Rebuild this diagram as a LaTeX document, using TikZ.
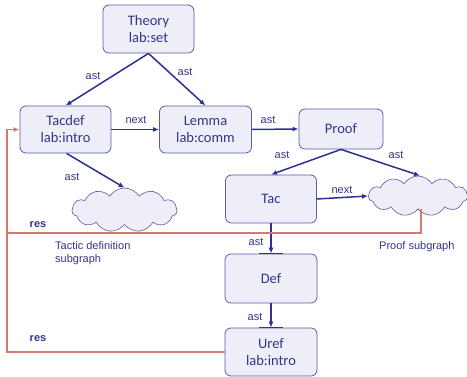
\documentclass[tikz,border=0pt]{standalone}
\usepackage{fontspec}
\setmainfont{Liberation Sans}
\newfontfamily\boxfont{Carlito}
\usetikzlibrary{arrows.meta,shapes.symbols}
\definecolor{nodefill}{HTML}{EEEEF8}
\definecolor{nodeline}{HTML}{5A5AAA}
\definecolor{navy}{HTML}{2E3192}
\definecolor{txt}{HTML}{34348A}
\definecolor{resred}{HTML}{D47A6E}
\tikzset{
  box/.style={draw=nodeline, fill=nodefill, rounded corners=6pt, line width=0.8pt,
    text=txt, font=\boxfont\fontsize{14.5}{17}\selectfont, align=center, inner sep=0pt},
  cloudnode/.style={cloud, cloud puffs=11, cloud puff arc=115, aspect=2.5, draw=nodeline,
    fill=nodefill, line width=0.6pt, inner sep=0pt},
  conn/.style={draw=navy, line width=1.5pt, -{Latex[length=6pt,width=5pt]}},
  resline/.style={draw=resred, line width=1.5pt},
  lbl/.style={text=txt, font=\fontsize{11}{13}\selectfont, inner sep=0pt},
  reslbl/.style={text=txt, font=\bfseries\fontsize{11}{13}\selectfont, inner sep=0pt},
  note/.style={text=txt, font=\fontsize{11}{13.5}\selectfont, inner sep=0pt, align=left}
}
\begin{document}
\begin{tikzpicture}[x=1pt,y=-1pt]
\useasboundingbox (0,0) rectangle (467,377);
% nodes
\node[box, minimum width=91pt, minimum height=48pt] (theory) at (148.5,29) {Theory\\lab:set};
\node[box, minimum width=91pt, minimum height=47pt] (tacdef) at (65.5,129.5) {Tacdef\\lab:intro};
\node[box, minimum width=92pt, minimum height=47pt] (lemma) at (205.5,129.5) {Lemma\\lab:comm};
\node[box, minimum width=84pt, minimum height=40pt] (proof) at (341,129) {Proof};
\node[box, minimum width=91pt, minimum height=48pt] (tac) at (271,199) {Tac};
\node[box, minimum width=92pt, minimum height=49pt] (def) at (271,278.5) {Def};
\node[box, minimum width=92pt, minimum height=48pt] (uref) at (271,352) {Uref\\lab:intro};
\node[cloudnode, minimum width=105pt, minimum height=44pt] (tcloud) at (124.5,210) {};
\node[cloudnode, minimum width=99pt, minimum height=40pt] (pcloud) at (418,196) {};
% connectors
\draw[conn] (theory.south) -- (tacdef.north);
\draw[conn] (theory.south) -- (lemma.north);
\draw[conn] (tacdef.east) -- (lemma.west);
\draw[conn] (lemma.east) -- (proof.west);
\draw[conn] ([xshift=1pt]tacdef.south) -- (tcloud.north);
\draw[conn] (proof.south) -- (tac.north);
\draw[conn] (proof.south) -- ([xshift=2pt]pcloud.north);
\draw[conn] (tac.east) -- (pcloud.west);
\draw[conn] (tac.south) -- (def.north);
\draw[conn] (def.south) -- (uref.north);
\draw[draw=navy, line width=1.8pt] ([xshift=-12pt]def.north) -- ([xshift=12pt]def.north);
\draw[draw=navy, line width=1.8pt] ([xshift=-12pt]uref.north) -- ([xshift=12pt]uref.north);
% res lines
\coordinate (c1) at (7,233);
\coordinate (c2) at (7,129.5);
\coordinate (c3) at (7,352);
\draw[resline] ([xshift=3pt]pcloud.south) -- ([xshift=3pt]pcloud.south |- c1) -- (c1);
\draw[resline] (uref.west |- c3) -- (c3) -- (c2);
\draw[resline, -{Latex[length=6pt,width=5pt]}] (c2) -- (tacdef.west);
% labels
\node[lbl] (l1) at (93,76) {ast};
\node[lbl] (l2) at (185,72) {ast};
\node[lbl] (l3) at (136,120) {next};
\node[lbl] (l4) at (268,120) {ast};
\node[lbl] (l5) at (72,177) {ast};
\node[lbl] (l6) at (282,155) {ast};
\node[lbl] (l7) at (396,155) {ast};
\node[lbl] (l8) at (342,190) {next};
\node[lbl] (l9) at (256,242) {ast};
\node[lbl] (l10) at (255,317) {ast};
\node[reslbl] (r1) at (38,225) {res};
\node[reslbl] (r2) at (38,339) {res};
\node[note, anchor=north west] (n1) at (55,241) {Tactic definition\\subgraph};
\node[note, anchor=west] (n2) at (379,246.5) {Proof subgraph};
\end{tikzpicture}
\end{document}
